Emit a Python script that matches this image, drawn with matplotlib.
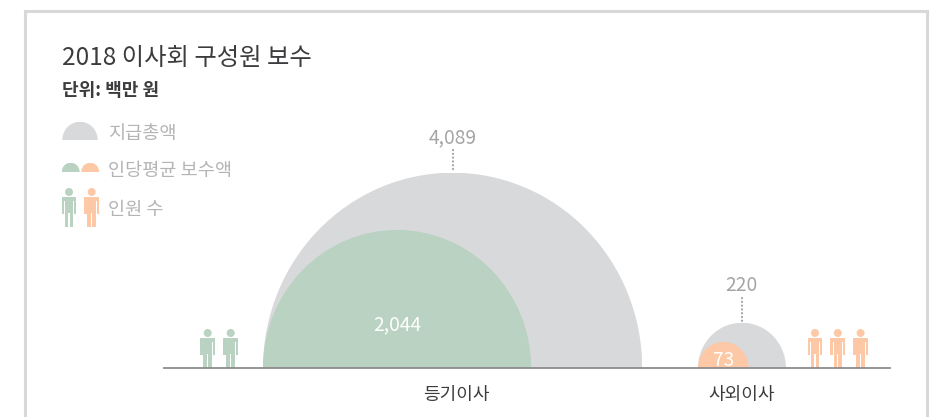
import matplotlib
matplotlib.use("Agg")
import matplotlib.pyplot as plt
from matplotlib.patches import Ellipse, Circle, Rectangle

plt.rcParams["font.family"] = ["Noto Sans CJK KR", "DejaVu Sans"]

categories = ["등기이사", "사외이사"]
total_pay = [4089, 220]
avg_pay = [2044, 73]
headcount = [2, 3]
legend_labels = ["지급총액", "인당평균 보수액", "인원 수"]

GRAY = "#d8d9db"
GREEN = "#b9d2c1"
ORANGE = "#fdc8a6"
TEXT_GRAY = "#a4a4a6"
DARK = "#3c3c3e"
K = 2.965  # px per sqrt(value), areas are proportional
STRETCH = 1.03  # domes are a little taller than wide
BASE_Y = 368


def radius(v):
    return K * v ** 0.5


def dome(ax, cx, y, r, color, z=2):
    e = Ellipse((cx, y), 2 * r, 2 * r * STRETCH, color=color, lw=0, zorder=z)
    ax.add_patch(e)
    # keep only the half above the base
    clip = Rectangle((cx - r, y - r * STRETCH), 2 * r, r * STRETCH, transform=ax.transData)
    e.set_clip_path(clip)


def person(ax, cx, feet, color):
    # head, shoulders, arms and two legs
    ax.add_patch(Circle((cx, feet - 35), 4, color=color, lw=0))
    ax.add_patch(Rectangle((cx - 7.4, feet - 30), 14.8, 4, color=color, lw=0))
    ax.add_patch(Rectangle((cx - 7.4, feet - 30), 2.4, 17, color=color, lw=0))
    ax.add_patch(Rectangle((cx + 5, feet - 30), 2.4, 17, color=color, lw=0))
    ax.add_patch(Rectangle((cx - 4.3, feet - 30), 8.6, 16, color=color, lw=0))
    ax.add_patch(Rectangle((cx - 4.3, feet - 14), 3.7, 14, color=color, lw=0))
    ax.add_patch(Rectangle((cx + 0.6, feet - 14), 3.7, 14, color=color, lw=0))


fig = plt.figure(figsize=(9.32, 4.17), dpi=100)
ax = fig.add_axes([0, 0, 1, 1])
ax.set_xlim(0, 932)
ax.set_ylim(417, 0)
ax.axis("off")

# card border, open at the bottom
ax.plot([24.5, 24.5, 926.5, 926.5], [418, 10.5, 10.5, 418], color="#d8d8d8", lw=2.2,
        zorder=1, solid_joinstyle="miter")

ax.text(62, 58, "2018 이사회 구성원 보수", fontsize=17.5, color=DARK, va="center")
ax.text(62, 90.5, "단위: 백만 원", fontsize=13, color=DARK, va="center", fontweight="bold")

# legend
dome(ax, 80, 140, 17.7, GRAY)
dome(ax, 70.7, 172, 9, GREEN)
dome(ax, 90.2, 172, 9, ORANGE)
person(ax, 69, 227, GREEN)
person(ax, 91.7, 227, ORANGE)
for label, y in zip(legend_labels, [134, 171, 209.5]):
    ax.text(108, y, label, fontsize=13.4, color="#b4b4b6", va="center")

# domes
left = 263
cx_big = left + radius(total_pay[0])
r_in = radius(avg_pay[0])
dome(ax, cx_big, BASE_Y, radius(total_pay[0]), GRAY)
dome(ax, left + r_in, BASE_Y, r_in, GREEN, 3)

left2 = 698
cx_small = left2 + radius(total_pay[1])
r_in2 = radius(avg_pay[1])
dome(ax, cx_small, BASE_Y, radius(total_pay[1]), GRAY)
dome(ax, left2 + r_in2, BASE_Y, r_in2, ORANGE, 3)

ax.plot([164, 890], [BASE_Y, BASE_Y], color="#8c8c8e", lw=1.3, zorder=4)

# value labels
ax.text(cx_big, 137.5, f"{total_pay[0]:,}", fontsize=13.8, color=TEXT_GRAY, ha="center", va="center")
ax.plot([cx_big, cx_big], [150, 172], color="#a8a8aa", lw=1.6, ls=(0, (0.1, 1.6)), dash_capstyle="round")
ax.text(left + r_in, 324.5, f"{avg_pay[0]:,}", fontsize=13.8, color="white", ha="center", va="center", zorder=5)
ax.text(cx_small - 1, 285.5, f"{total_pay[1]:,}", fontsize=13.8, color=TEXT_GRAY, ha="center", va="center")
ax.plot([cx_small, cx_small], [298, 321], color="#a8a8aa", lw=1.6, ls=(0, (0.1, 1.6)), dash_capstyle="round")
ax.text(left2 + r_in2, 360.5, f"{avg_pay[1]:,}", fontsize=13.8, color="white", ha="center", va="center", zorder=5)

# people
for i in range(headcount[0]):
    person(ax, 207.7 + i * 23, BASE_Y, GREEN)
for i in range(headcount[1]):
    person(ax, 815 + i * 22.8, BASE_Y, ORANGE)

ax.text(456, 395, categories[0], fontsize=13, color=DARK, ha="center", va="center", fontweight="medium")
ax.text(742, 395, categories[1], fontsize=13, color=DARK, ha="center", va="center", fontweight="medium")

fig.savefig("out.png", dpi=100)
plt.close(fig)
